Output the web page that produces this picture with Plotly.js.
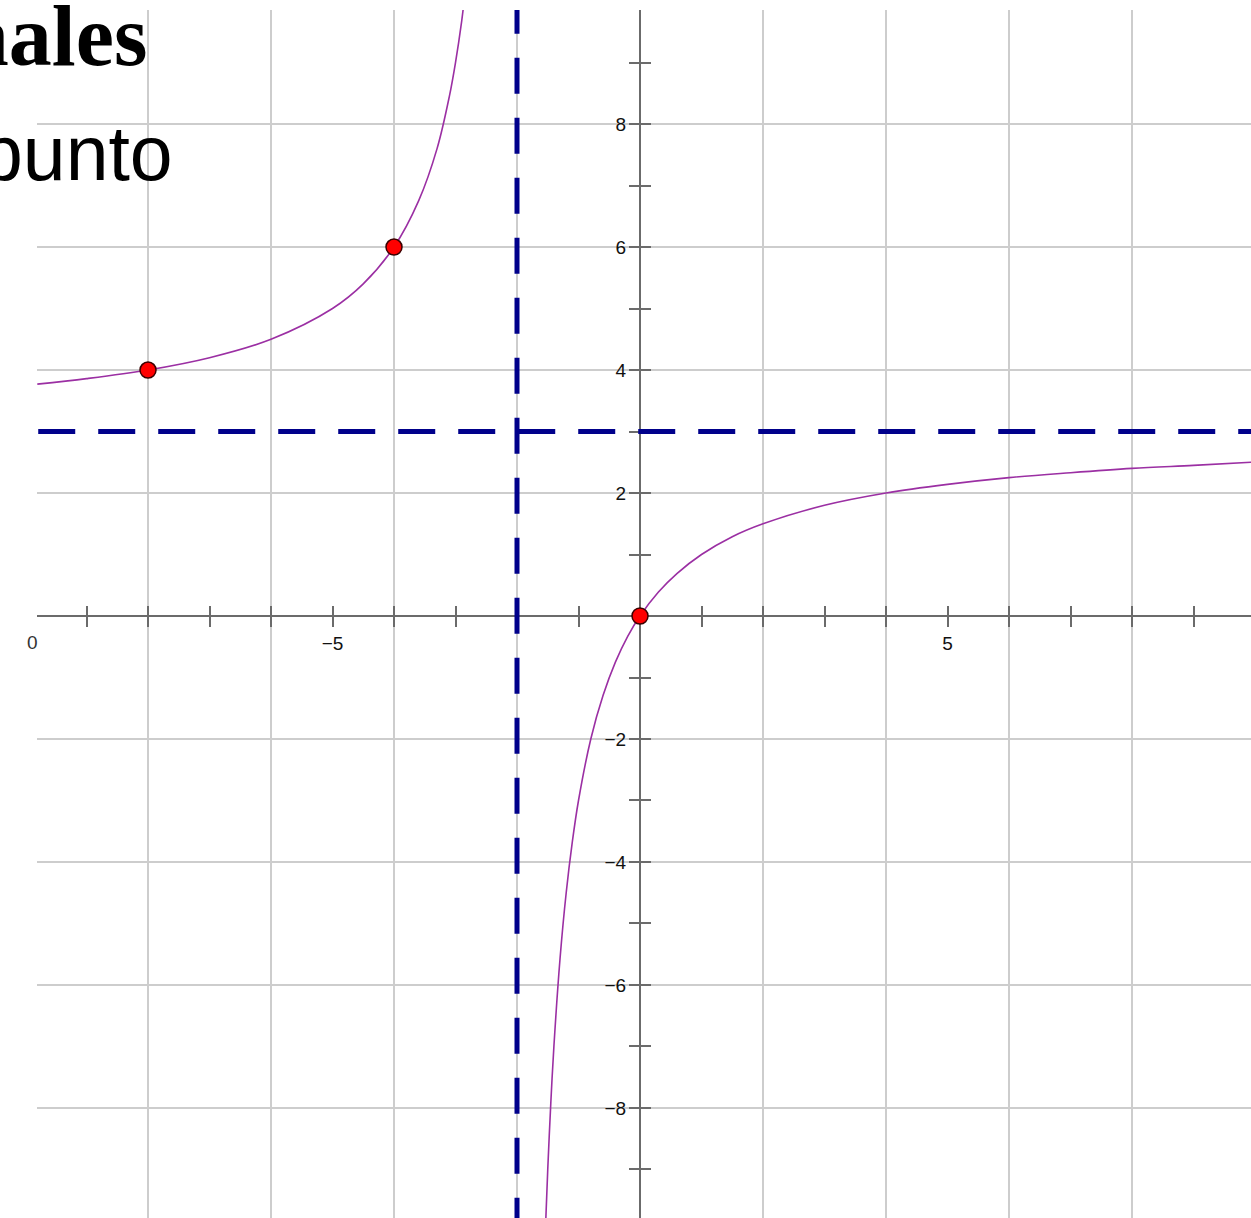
<!DOCTYPE html>
<html>
<head>
<meta charset="utf-8">
<script src="https://cdn.plot.ly/plotly-3.0.1.min.js"></script>
<style>html,body{margin:0;padding:0;background:#fff;}#chart{width:1251px;height:1218px;}</style>
</head>
<body>
<div id="chart"></div>
<script>
// ---- data ----
const leftBranchX = [-9.8, -9, -8, -7, -6, -5, -4.5, -4, -3.6, -3.3, -3.1, -3.0, -2.9, -2.86];
const leftBranchY = [3.77, 3.86, 4.0, 4.2, 4.5, 5.0, 5.4, 6.0, 6.75, 7.6, 8.45, 9.0, 9.67, 10.0];
const rightBranchX = [-1.535, -1.5, -1.45, -1.4, -1.3, -1.2, -1.1, -1, -0.8, -0.6, -0.4, -0.2, 0, 0.3, 0.6, 1, 1.5, 2, 3, 4, 5, 6, 7, 8, 9, 9.95];
const rightBranchY = [-9.9, -9.0, -7.91, -7.0, -5.57, -4.5, -3.67, -3.0, -2.0, -1.29, -0.75, -0.33, 0, 0.39, 0.69, 1.0, 1.29, 1.5, 1.8, 2.0, 2.14, 2.25, 2.33, 2.4, 2.45, 2.5];
const pointsX = [-8, -4, 0];
const pointsY = [4, 6, 0];
const verticalAsymptoteX = -2;
const horizontalAsymptoteY = 3;
const xLabelVals = [-5, 5];
const xLabelText = ['\u22125', '5'];
const yLabelVals = [-8, -6, -4, -2, 2, 4, 6, 8];
const yLabelText = ['\u22128', '\u22126', '\u22124', '\u22122', '2', '4', '6', '8'];
const textLine1 = 'nales';
const textLine2 = 'punto';
const textZero = '0';

// ---- view ----
const xRange = [-9.805, 9.935];
const yRange = [-9.789, 9.854];
const W = 1251, H = 1218, ML = 37, MT = 10;
const plotW = W - ML, plotH = H - MT;
const xZeroFrac = (0 - xRange[0]) / (xRange[1] - xRange[0]);
const yZeroFrac = (0 - yRange[0]) / (yRange[1] - yRange[0]);

const axisColor = '#6b6b6b';
const gridColor = '#cdcdcd';
const tickFont = {family: 'Liberation Sans, Arial, sans-serif', size: 19, color: '#111'};

const traces = [];
// vertical asymptote
traces.push({x: [verticalAsymptoteX, verticalAsymptoteX], y: [yRange[1] + 0.2, yRange[0] - 0.5],
  mode: 'lines', line: {color: '#00008B', width: 5, dash: '36px,24px'}, hoverinfo: 'skip', showlegend: false});
// horizontal asymptote
traces.push({x: [xRange[0] + 0.02, xRange[1] + 0.5], y: [horizontalAsymptoteY, horizontalAsymptoteY],
  mode: 'lines', line: {color: '#00008B', width: 5, dash: '37px,23px'}, hoverinfo: 'skip', showlegend: false});
// curve
traces.push({x: leftBranchX, y: leftBranchY, mode: 'lines', line: {color: '#9b2fa3', width: 1.6, shape: 'spline'}, hoverinfo: 'skip', showlegend: false});
traces.push({x: rightBranchX, y: rightBranchY, mode: 'lines', line: {color: '#9b2fa3', width: 1.6, shape: 'spline'}, hoverinfo: 'skip', showlegend: false});
// points
traces.push({x: pointsX, y: pointsY, mode: 'markers', marker: {color: '#ff0000', size: 16, line: {color: '#3a0000', width: 1.5}}, hoverinfo: 'skip', showlegend: false, cliponaxis: false});
// dummy traces for overlay axes
['x2','x3','x4'].forEach(a => traces.unshift({x: [], y: [], xaxis: a, yaxis: 'y', mode: 'markers', hoverinfo: 'skip', showlegend: false}));
['y2','y3','y4'].forEach(a => traces.unshift({x: [], y: [], xaxis: 'x', yaxis: a, mode: 'markers', hoverinfo: 'skip', showlegend: false}));

const baseX = {range: xRange, showgrid: false, zeroline: false, fixedrange: true};
const baseY = {range: yRange, showgrid: false, zeroline: false, fixedrange: true};

const layout = {
  width: W, height: H,
  margin: {l: ML, r: 0, t: MT, b: 0, pad: 0},
  paper_bgcolor: '#fff', plot_bgcolor: '#fff',
  showlegend: false, hovermode: false,
  xaxis: {range: xRange, tickmode: 'linear', tick0: 0, dtick: 2, showgrid: true, gridcolor: gridColor, gridwidth: 1.5,
    zeroline: false, showticklabels: false, ticks: '', showline: false, fixedrange: true},
  yaxis: {range: yRange, tickmode: 'linear', tick0: 0, dtick: 2, showgrid: true, gridcolor: gridColor, gridwidth: 1.5,
    zeroline: false, showticklabels: false, ticks: '', showline: false, fixedrange: true},
  xaxis2: Object.assign({}, baseX, {overlaying: 'x', anchor: 'free', position: yZeroFrac, side: 'bottom', layer: 'below traces',
    tickmode: 'linear', tick0: 0, dtick: 1, ticks: 'outside', ticklen: 10, tickwidth: 2, tickcolor: axisColor,
    showline: true, linecolor: axisColor, linewidth: 2, showticklabels: false}),
  xaxis3: Object.assign({}, baseX, {overlaying: 'x', anchor: 'free', position: yZeroFrac, side: 'bottom', layer: 'below traces',
    tickmode: 'linear', tick0: 0, dtick: 1, ticks: 'inside', ticklen: 10, tickwidth: 2, tickcolor: axisColor,
    showline: false, showticklabels: false}),
  xaxis4: Object.assign({}, baseX, {overlaying: 'x', anchor: 'free', position: yZeroFrac, side: 'bottom', layer: 'below traces',
    tickmode: 'array', tickvals: xLabelVals, ticktext: xLabelText, ticks: 'outside', ticklen: 10, tickcolor: 'rgba(0,0,0,0)',
    showline: false, showticklabels: true, tickfont: tickFont}),
  yaxis2: Object.assign({}, baseY, {overlaying: 'y', anchor: 'free', position: xZeroFrac, side: 'left', layer: 'below traces',
    tickmode: 'linear', tick0: 0, dtick: 1, ticks: 'outside', ticklen: 10, tickwidth: 2, tickcolor: axisColor,
    showline: true, linecolor: axisColor, linewidth: 2, showticklabels: false}),
  yaxis3: Object.assign({}, baseY, {overlaying: 'y', anchor: 'free', position: xZeroFrac, side: 'left', layer: 'below traces',
    tickmode: 'linear', tick0: 0, dtick: 1, ticks: 'inside', ticklen: 10, tickwidth: 2, tickcolor: axisColor,
    showline: false, showticklabels: false}),
  yaxis4: Object.assign({}, baseY, {overlaying: 'y', anchor: 'free', position: xZeroFrac, side: 'left', layer: 'below traces',
    tickmode: 'array', tickvals: yLabelVals, ticktext: yLabelText, ticks: 'outside', ticklen: 10, tickcolor: 'rgba(0,0,0,0)',
    showline: false, showticklabels: true, tickfont: tickFont}),
  annotations: [
    {text: textLine1, xref: 'paper', yref: 'paper', x: (149 - ML) / plotW, y: (H - 36) / plotH, xanchor: 'right', yanchor: 'middle',
      showarrow: false, font: {family: 'Liberation Serif, Times New Roman, serif', size: 86, color: '#000', weight: 'bold'}},
    {text: textLine2, xref: 'paper', yref: 'paper', x: (175 - ML) / plotW, y: (H - 153) / plotH, xanchor: 'right', yanchor: 'middle',
      showarrow: false, font: {family: 'Liberation Sans, Arial, sans-serif', size: 77, color: '#000'}},
    {text: textZero, xref: 'paper', yref: 'paper', x: (32 - ML) / plotW, y: (H - 642) / plotH, xanchor: 'center', yanchor: 'middle',
      showarrow: false, font: {family: 'Liberation Sans, Arial, sans-serif', size: 19, color: '#333'}}
  ]
};

Plotly.newPlot('chart', traces, layout, {staticPlot: true, displayModeBar: false});
</script>
</body>
</html>
